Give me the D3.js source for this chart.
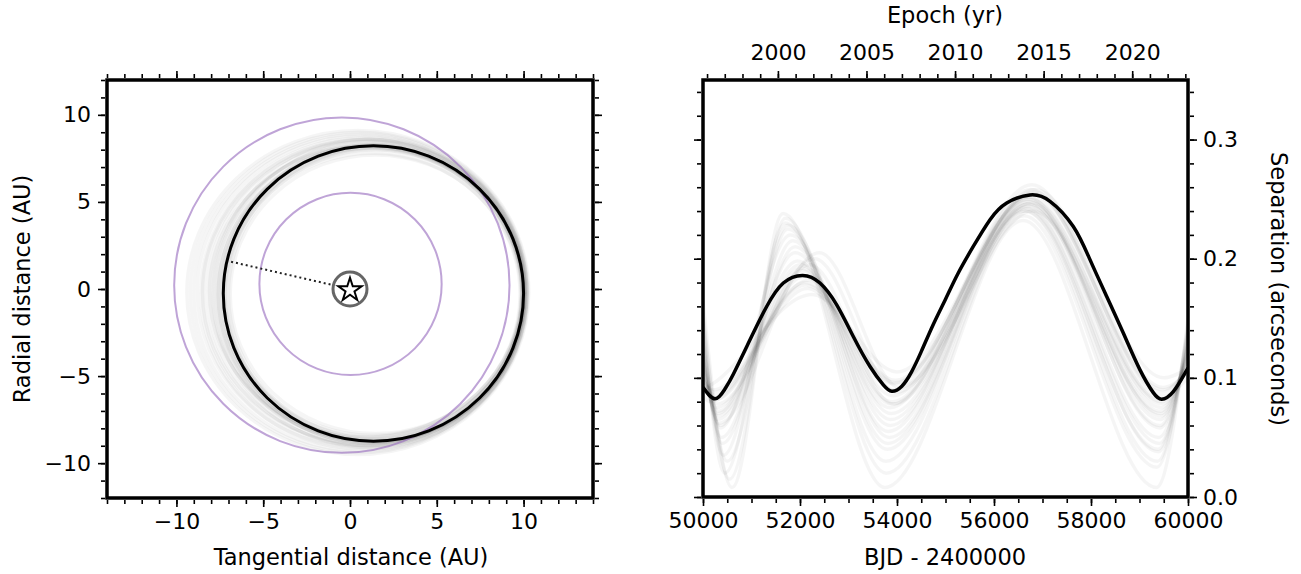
<!DOCTYPE html>
<html lang="en">
<head>
    <meta charset="utf-8">
    <title>Orbit and separation</title>
    <script src="https://d3js.org/d3.v7.min.js" charset="utf-8"></script>
    <style>
        body { margin: 0; background: #fff; }
        text { font-family: "DejaVu Sans", sans-serif; fill: #000; }
    </style>
</head>
<body>

<script>

    var w = 1301;
    var h = 574;

    // ---- left panel: orbit on the sky (AU) ----
    // best orbit as extents [left, right, top, bottom]
    var bestOrbit = [-7.3, 10.0, 8.22, -8.74];
    // posterior draws, same layout
    var orbitSamples = [
        [-7.0, 9.9, 8.0, -8.6], [-7.5, 10.1, 8.3, -8.9], [-7.8, 10.0, 8.4, -8.8],
        [-8.2, 10.1, 8.6, -9.0], [-8.6, 10.2, 8.7, -9.2], [-9.0, 10.2, 8.9, -9.3],
        [-9.4, 10.3, 9.1, -9.5], [-7.2, 9.8, 7.8, -8.4], [-7.6, 9.9, 8.1, -8.6],
        [-8.0, 9.95, 8.3, -8.7], [-8.4, 10.05, 8.5, -8.9], [-6.9, 9.85, 7.7, -8.3],
        [-7.4, 10.05, 8.2, -8.8], [-7.7, 10.15, 8.5, -9.0], [-8.8, 10.1, 8.8, -9.1],
        [-9.2, 10.25, 9.0, -9.4], [-7.1, 10.0, 8.1, -8.7], [-7.9, 10.2, 8.6, -9.1],
        [-8.1, 9.9, 8.2, -8.5], [-7.3, 9.95, 8.0, -8.5], [-7.4, 10.0, 8.3, -8.8],
        [-7.2, 10.05, 8.15, -8.75], [-7.6, 10.0, 8.25, -8.85], [-8.5, 10.1, 8.6, -9.0]
    ];
    // reference circles [cx, cy, r]
    var refCircles = [[-0.47, 0.22, 9.66], [0.03, 0.29, 5.25]];
    var star = [0, 0];
    var dotEnd = [-7.0, 1.6];

    var xTicksAU = [-10, -5, 0, 5, 10];
    var yTicksAU = [-10, -5, 0, 5, 10];

    // ---- right panel: separation vs time ----
    var bjd = [50000, 50247, 50450, 50625, 50969, 51313, 51656, 52056, 52412, 52757,
               53099, 53443, 53718, 53891, 54100, 54300, 54500, 54750, 55000, 55250,
               55573, 55918, 56262, 56742, 57155, 57635, 57979, 58324, 58666, 59010,
               59284, 59458, 59697, 59938, 60000];
    var sep = [0.092, 0.0824, 0.0905, 0.103, 0.1319, 0.1599, 0.1796, 0.1860, 0.1796, 0.1613,
               0.1347, 0.1095, 0.0941, 0.0888, 0.093, 0.105, 0.122, 0.145, 0.166, 0.187,
               0.2103, 0.2328, 0.2468, 0.2535, 0.2482, 0.2271, 0.1992, 0.1683, 0.1376, 0.1067,
               0.0876, 0.0821, 0.0885, 0.1039, 0.108];

    // posterior draws: turning points [bjd, separation]
    var sepSamples = [
        [[50000,0.120],[50350,0.060],[51900,0.205],[53850,0.075],[56700,0.250],[59430,0.065],[60000,0.125]],
        [[50000,0.100],[50250,0.085],[52100,0.180],[53950,0.095],[56800,0.255],[59480,0.088],[60000,0.110]],
        [[50000,0.150],[50500,0.030],[51750,0.225],[53800,0.040],[56650,0.240],[59380,0.040],[60000,0.140]],
        [[50000,0.165],[50600,0.008],[51650,0.238],[53750,0.008],[56600,0.232],[59350,0.008],[60000,0.150]],
        [[50000,0.090],[50200,0.095],[52250,0.170],[54000,0.105],[56850,0.258],[59500,0.100],[60000,0.108]],
        [[50000,0.110],[50300,0.070],[52000,0.195],[53900,0.080],[56750,0.252],[59450,0.075],[60000,0.118]],
        [[50000,0.135],[50400,0.045],[51850,0.215],[53820,0.055],[56680,0.246],[59400,0.050],[60000,0.130]],
        [[50000,0.085],[50150,0.080],[52150,0.175],[53950,0.090],[56780,0.262],[59470,0.085],[60000,0.100]],
        [[50000,0.125],[50300,0.065],[52050,0.190],[53880,0.070],[56720,0.244],[59440,0.070],[60000,0.122]],
        [[50000,0.105],[50280,0.075],[52080,0.185],[53920,0.085],[56760,0.258],[59460,0.080],[60000,0.115]],
        [[50000,0.145],[50450,0.020],[51700,0.230],[53780,0.020],[56620,0.236],[59360,0.025],[60000,0.145]],
        [[50000,0.095],[50220,0.090],[52120,0.178],[53970,0.098],[56820,0.256],[59490,0.092],[60000,0.105]],
        [[50000,0.115],[50320,0.072],[51950,0.198],[53870,0.065],[56700,0.248],[59420,0.060],[60000,0.128]],
        [[50000,0.130],[50380,0.050],[51900,0.210],[53840,0.050],[56660,0.243],[59410,0.045],[60000,0.135]],
        [[50000,0.100],[50260,0.082],[52300,0.200],[53990,0.088],[56740,0.250],[59455,0.082],[60000,0.112]],
        [[50000,0.155],[50550,0.015],[51700,0.234],[53770,0.030],[56640,0.240],[59370,0.030],[60000,0.142]],
        [[50000,0.118],[50330,0.062],[52200,0.195],[53930,0.078],[56770,0.247],[59445,0.068],[60000,0.120]],
        [[50000,0.108],[50290,0.078],[52400,0.205],[54050,0.092],[56800,0.240],[59475,0.078],[60000,0.113]],
        [[50000,0.128],[50360,0.058],[51800,0.220],[53860,0.060],[56690,0.252],[59425,0.058],[60000,0.126]],
        [[50000,0.098],[50240,0.088],[52180,0.182],[53960,0.096],[56790,0.254],[59485,0.090],[60000,0.107]],
        [[50000,0.140],[50420,0.035],[51750,0.228],[53810,0.045],[56670,0.242],[59390,0.038],[60000,0.138]],
        [[50000,0.112],[50310,0.068],[52020,0.192],[53890,0.078],[56730,0.246],[59435,0.072],[60000,0.120]]
    ];

    var bjdTicks = [50000, 52000, 54000, 56000, 58000, 60000];
    var sepTicks = [0.0, 0.1, 0.2, 0.3];
    var yearTicks = [2000, 2005, 2010, 2015, 2020];

    var svg = d3.select("body")
        .append("svg")
        .attr("width", w)
        .attr("height", h);

    // tick helper: outward ticks, no domain line
    function ticks(g, axis) {
        g.call(axis);
        g.select(".domain").remove();
        g.selectAll(".tick line").attr("stroke", "#000").attr("stroke-width", 1.6);
        g.selectAll(".tick text").attr("font-size", 22).attr("fill", "#000")
            .attr("font-family", "DejaVu Sans, sans-serif");
    }

    // ================= LEFT =================
    var x = d3.scaleLinear().domain([-14, 14]).range([107, 593]);
    var y = d3.scaleLinear().domain([-12, 12]).range([498, 80]);

    var left = svg.append("g");

    function ell(sel, o) {
        var cx = (o[0] + o[1]) / 2, cy = (o[2] + o[3]) / 2;
        sel.attr("cx", x(cx)).attr("cy", y(cy))
            .attr("rx", x(o[1]) - x(cx))
            .attr("ry", y(cy) - y(o[2]));
    }

    left.selectAll(".samp").data(orbitSamples).enter()
        .append("ellipse")
        .each(function(d) { ell(d3.select(this), d); })
        .attr("fill", "none")
        .attr("stroke", "#000")
        .attr("stroke-opacity", 0.04)
        .attr("stroke-width", 3.5);

    left.selectAll(".ref").data(refCircles).enter()
        .append("circle")
        .attr("cx", function(d) { return x(d[0]); })
        .attr("cy", function(d) { return y(d[1]); })
        .attr("r", function(d) { return x(d[2]) - x(0); })
        .attr("fill", "none")
        .attr("stroke", "#9467bd")
        .attr("stroke-opacity", 0.6)
        .attr("stroke-width", 2);

    left.append("ellipse")
        .call(ell, bestOrbit)
        .attr("fill", "none")
        .attr("stroke", "#000")
        .attr("stroke-width", 3);

    left.append("line")
        .attr("x1", x(star[0])).attr("y1", y(star[1]))
        .attr("x2", x(dotEnd[0])).attr("y2", y(dotEnd[1]))
        .attr("stroke", "#222")
        .attr("stroke-width", 2)
        .attr("stroke-dasharray", "2,3");

    left.append("circle")
        .attr("cx", x(star[0])).attr("cy", y(star[1]))
        .attr("r", 17)
        .attr("fill", "#fff")
        .attr("stroke", "#666")
        .attr("stroke-width", 3);

    left.append("path")
        .attr("d", d3.symbol().type(d3.symbolStar).size(170)())
        .attr("transform", "translate(" + x(star[0]) + "," + (y(star[1]) + 1) + ")")
        .attr("fill", "#fff")
        .attr("stroke", "#000")
        .attr("stroke-width", 2);

    // frame
    left.append("rect")
        .attr("x", 107).attr("y", 80).attr("width", 486).attr("height", 418)
        .attr("fill", "none").attr("stroke", "#000").attr("stroke-width", 3.5);

    var minorAU = d3.range(-14, 15);
    var minorAUy = d3.range(-12, 13);
    left.append("g").attr("transform", "translate(0,500)")
        .call(ticks, d3.axisBottom(x).tickValues(minorAU).tickSize(4).tickFormat(""));
    left.append("g").attr("transform", "translate(0,500)")
        .call(ticks, d3.axisBottom(x).tickValues(xTicksAU).tickSize(7).tickPadding(6));
    left.append("g").attr("transform", "translate(0,78)")
        .call(ticks, d3.axisTop(x).tickValues(minorAU).tickSize(4).tickFormat(""));
    left.append("g").attr("transform", "translate(0,78)")
        .call(ticks, d3.axisTop(x).tickValues(xTicksAU).tickSize(7).tickFormat(""));
    left.append("g").attr("transform", "translate(105,0)")
        .call(ticks, d3.axisLeft(y).tickValues(minorAUy).tickSize(4).tickFormat(""));
    left.append("g").attr("transform", "translate(105,0)")
        .call(ticks, d3.axisLeft(y).tickValues(yTicksAU).tickSize(7).tickPadding(7));
    left.append("g").attr("transform", "translate(595,0)")
        .call(ticks, d3.axisRight(y).tickValues(minorAUy).tickSize(4).tickFormat(""));
    left.append("g").attr("transform", "translate(595,0)")
        .call(ticks, d3.axisRight(y).tickValues(yTicksAU).tickSize(7).tickFormat(""));

    left.append("text")
        .attr("x", 351).attr("y", 565)
        .attr("text-anchor", "middle").attr("font-size", 22.5)
        .text("Tangential distance (AU)");
    left.append("text")
        .attr("transform", "translate(30,289) rotate(-90)")
        .attr("text-anchor", "middle").attr("font-size", 22.5)
        .text("Radial distance (AU)");

    // ================= RIGHT =================
    var bx = d3.scaleLinear().domain([50000, 60000]).range([703, 1188]);
    var sy = d3.scaleLinear().domain([0, 0.35]).range([497, 80]);
    function yearOf(b) { return 2000 + (b - 51544.5) / 365.25; }
    var yr = d3.scaleLinear().domain([yearOf(50000), yearOf(60000)]).range([703, 1188]);

    var right = svg.append("g");
    right.append("clipPath").attr("id", "clipR")
        .append("rect").attr("x", 703).attr("y", 80).attr("width", 485).attr("height", 417);

    var sampLine = d3.line()
        .x(function(d) { return bx(d[0]); })
        .y(function(d) { return sy(d[1]); })
        .curve(d3.curveMonotoneX);
    var bestLine = d3.line()
        .x(function(d) { return bx(d[0]); })
        .y(function(d) { return sy(d[1]); })
        .curve(d3.curveNatural);

    var plot = right.append("g").attr("clip-path", "url(#clipR)");
    plot.selectAll(".samp").data(sepSamples).enter()
        .append("path")
        .attr("d", sampLine)
        .attr("fill", "none")
        .attr("stroke", "#000")
        .attr("stroke-opacity", 0.04)
        .attr("stroke-width", 3.5);

    var best = bjd.map(function(b, i) { return [b, sep[i]]; });
    plot.append("path")
        .attr("d", bestLine(best))
        .attr("fill", "none")
        .attr("stroke", "#000")
        .attr("stroke-width", 3.5);

    right.append("rect")
        .attr("x", 703).attr("y", 80).attr("width", 485).attr("height", 417)
        .attr("fill", "none").attr("stroke", "#000").attr("stroke-width", 3.5);

    var minorBjd = d3.range(50000, 60001, 500);
    var minorSep = d3.range(0, 0.3501, 0.02);
    var minorYr = d3.range(1996, 2024);

    right.append("g").attr("transform", "translate(0,499)")
        .call(ticks, d3.axisBottom(bx).tickValues(minorBjd).tickSize(4).tickFormat(""));
    right.append("g").attr("transform", "translate(0,499)")
        .call(ticks, d3.axisBottom(bx).tickValues(bjdTicks).tickSize(7).tickPadding(6).tickFormat(d3.format("d")));
    right.append("g").attr("transform", "translate(0,78)")
        .call(ticks, d3.axisTop(yr).tickValues(minorYr).tickSize(4).tickFormat(""));
    right.append("g").attr("transform", "translate(0,78)")
        .call(ticks, d3.axisTop(yr).tickValues(yearTicks).tickSize(7).tickPadding(11).tickFormat(d3.format("d")));
    right.append("g").attr("transform", "translate(701,0)")
        .call(ticks, d3.axisLeft(sy).tickValues(minorSep).tickSize(4).tickFormat(""));
    right.append("g").attr("transform", "translate(701,0)")
        .call(ticks, d3.axisLeft(sy).tickValues(sepTicks).tickSize(7).tickFormat(""));
    right.append("g").attr("transform", "translate(1190,0)")
        .call(ticks, d3.axisRight(sy).tickValues(minorSep).tickSize(4).tickFormat(""));
    right.append("g").attr("transform", "translate(1190,0)")
        .call(ticks, d3.axisRight(sy).tickValues(sepTicks).tickSize(7).tickPadding(6).tickFormat(d3.format(".1f")));

    right.append("text")
        .attr("x", 945).attr("y", 565)
        .attr("text-anchor", "middle").attr("font-size", 22.5)
        .text("BJD - 2400000");
    right.append("text")
        .attr("x", 945).attr("y", 23)
        .attr("text-anchor", "middle").attr("font-size", 22.5)
        .text("Epoch (yr)");
    right.append("text")
        .attr("transform", "translate(1271,289) rotate(90)")
        .attr("text-anchor", "middle").attr("font-size", 22.5)
        .text("Separation (arcseconds)");

</script>
</body>
</html>
